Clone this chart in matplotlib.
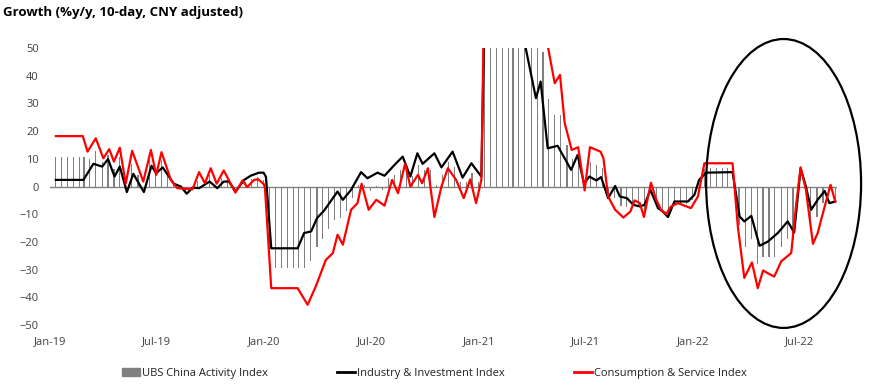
import pandas as pd
import matplotlib
matplotlib.use('Agg')
import matplotlib.pyplot as plt
import matplotlib.dates as mdates
from matplotlib.patches import Ellipse, Patch
from matplotlib.lines import Line2D

plt.rcParams['font.family'] = ['Open Sans', 'DejaVu Sans']

# UBS China Activity Index: one value per 10-day period (10th, 20th, month end), Jan-19 .. Aug-22
bar_months = pd.period_range('2019-01', '2022-08', freq='M')
activity = [
    10.5, 10.5, 10.5,  10.5, 10.5, 10.5,  10.0, 13.0, 8.8,  11.5, 6.4, 10.6,
    0.0, 8.2, 4.0,  0.0, 9.5, 5.0,  9.6, 5.5, 1.0,  -0.4, -1.7, -0.7,
    2.0, 1.0, 4.0,  0.7, 3.0, 2.4,  -1.2, 0.5, 1.5,  2.7, 3.5, 2.5,
    # 2020
    -29.5, -29.5, -29.5,  -29.5, -29.5, -29.5,  -29.5, -27.0, -22.0,  -19.0, -15.5, -12.0,
    -11.5, -9.0, -4.0,  0.5, 0.5, -1.7,  0.1, -1.2, 3.2,  4.1, 6.0, 6.5,
    3.8, 7.6, 6.0,  6.0, 0.7, 4.2,  8.8, 7.2, 1.7,  1.5, 4.8, 1.8,
    # 2021
    62, 68, 72,  75, 80, 85,  78, 70, 62,  53, 48.7, 31.5,
    26.0, 26.0, 15.0,  10.0, 9.0, 0.2,  8.7, 7.6, 6.7,  -4.0, -4.0, -7.0,
    -7.3, -6.2, -6.5,  -8.7, 0.0, -6.0,  -9.0, -10.0, -6.0,  -5.9, -6.3, -5.0,
    # 2022
    -1.0, 6.4, 6.8,  6.8, 6.8, 6.8,  6.8, -14.0, -22.0,  -19.0, -28.0, -25.5,
    -25.6, -25.5, -22.0,  -19.0, -19.4, 1.5,  0.8, -12.0, -11.0,  -6.0, -3.3, -5.4,
]

industry_pts = [
    ('2019-01-11', 2.4), ('2019-02-27', 2.4), ('2019-03-16', 8.2), ('2019-03-31', 7.2),
    ('2019-04-10', 9.9), ('2019-04-21', 3.6), ('2019-04-30', 7.2), ('2019-05-12', -2.0),
    ('2019-05-23', 4.6), ('2019-06-10', -2.0), ('2019-06-23', 7.5), ('2019-07-01', 4.8),
    ('2019-07-12', 6.9), ('2019-07-31', 1.0), ('2019-08-12', 0.0), ('2019-08-22', -2.6),
    ('2019-09-01', -0.4), ('2019-09-12', -0.6), ('2019-09-30', 1.8), ('2019-10-13', -0.6),
    ('2019-10-24', 1.8), ('2019-11-02', 1.8), ('2019-11-13', -1.8), ('2019-11-28', 2.4),
    ('2019-12-09', 3.9), ('2019-12-23', 5.0), ('2019-12-31', 5.0), ('2020-01-04', 3.5),
    ('2020-01-13', -22.3), ('2020-02-27', -22.3), ('2020-03-09', -16.8), ('2020-03-21', -16.2),
    ('2020-03-31', -11.4), ('2020-04-12', -8.7), ('2020-04-23', -5.4), ('2020-05-05', -1.8),
    ('2020-05-14', -4.8), ('2020-05-28', -1.2), ('2020-06-14', 5.2), ('2020-06-25', 3.0),
    ('2020-07-12', 5.0), ('2020-07-24', 3.9), ('2020-08-10', 7.8), ('2020-08-24', 10.8),
    ('2020-09-06', 3.6), ('2020-09-18', 12.0), ('2020-09-27', 8.2), ('2020-10-17', 12.0),
    ('2020-10-29', 6.9), ('2020-11-17', 12.6), ('2020-12-04', 3.2), ('2020-12-19', 8.4),
    ('2021-01-05', 3.6), ('2021-01-12', 80.0), ('2021-02-15', 90.0), ('2021-03-10', 62.0),
    ('2021-04-08', 31.9), ('2021-04-16', 37.9), ('2021-04-28', 13.8), ('2021-05-15', 14.7),
    ('2021-06-07', 6.0), ('2021-06-18', 11.4), ('2021-06-29', 1.0), ('2021-07-08', 3.6),
    ('2021-07-20', 2.2), ('2021-07-28', 3.4), ('2021-08-09', -4.2), ('2021-08-21', 0.2),
    ('2021-08-29', -3.6), ('2021-09-10', -4.2), ('2021-09-21', -6.6), ('2021-10-02', -7.2),
    ('2021-10-10', -6.6), ('2021-10-20', -1.2), ('2021-11-02', -7.8), ('2021-11-10', -9.0),
    ('2021-11-19', -11.0), ('2021-11-30', -5.4), ('2021-12-23', -5.4), ('2022-01-03', -3.0),
    ('2022-01-11', 2.4), ('2022-01-23', 5.0), ('2022-03-09', 5.2), ('2022-03-21', -10.8),
    ('2022-03-29', -12.6), ('2022-04-10', -10.6), ('2022-04-24', -21.4), ('2022-05-08', -19.9),
    ('2022-05-25', -16.8), ('2022-06-11', -12.6), ('2022-06-22', -16.6), ('2022-07-03', 6.6),
    ('2022-07-12', 0.0), ('2022-07-21', -8.4), ('2022-08-01', -4.8), ('2022-08-13', -1.6),
    ('2022-08-21', -6.0), ('2022-08-31', -5.4),
]

consumption_pts = [
    ('2019-01-11', 18.2), ('2019-02-26', 18.2), ('2019-03-06', 12.6), ('2019-03-20', 17.4),
    ('2019-04-02', 10.2), ('2019-04-12', 13.5), ('2019-04-20', 9.0), ('2019-04-30', 14.0),
    ('2019-05-10', 1.0), ('2019-05-21', 12.9), ('2019-06-09', 1.8), ('2019-06-22', 13.2),
    ('2019-07-01', 4.2), ('2019-07-10', 12.4), ('2019-07-26', 2.4), ('2019-08-06', -0.6),
    ('2019-09-01', -1.0), ('2019-09-12', 5.2), ('2019-09-22', 1.2), ('2019-10-02', 6.6),
    ('2019-10-12', 1.0), ('2019-10-24', 5.8), ('2019-11-13', -2.2), ('2019-11-25', 2.2),
    ('2019-12-03', -0.2), ('2019-12-15', 2.4), ('2019-12-22', 2.6), ('2020-01-02', 0.5),
    ('2020-01-13', -36.7), ('2020-02-27', -36.7), ('2020-03-15', -42.7), ('2020-03-29', -36.0),
    ('2020-04-15', -26.5), ('2020-04-27', -24.0), ('2020-05-05', -17.4), ('2020-05-14', -21.0),
    ('2020-05-28', -8.4), ('2020-06-08', -6.0), ('2020-06-15', 1.0), ('2020-06-27', -8.4),
    ('2020-07-10', -4.8), ('2020-07-24', -6.9), ('2020-08-06', 2.4), ('2020-08-16', -2.4),
    ('2020-08-28', 8.2), ('2020-09-06', 0.0), ('2020-09-19', 4.2), ('2020-09-26', 1.2),
    ('2020-10-06', 6.6), ('2020-10-17', -11.0), ('2020-10-29', 0.0), ('2020-11-09', 6.6),
    ('2020-11-23', 2.4), ('2020-12-06', -4.2), ('2020-12-17', 2.6), ('2020-12-27', -6.0),
    ('2021-01-05', 2.4), ('2021-01-12', 100.0), ('2021-03-15', 110.0), ('2021-04-20', 60.0),
    ('2021-05-10', 37.3), ('2021-05-19', 40.3), ('2021-05-27', 22.9), ('2021-06-08', 13.2),
    ('2021-06-19', 14.2), ('2021-06-30', -1.4), ('2021-07-09', 14.2), ('2021-07-27', 12.6),
    ('2021-08-01', 10.2), ('2021-08-09', -3.6), ('2021-08-21', -8.4), ('2021-09-04', -11.2),
    ('2021-09-16', -9.0), ('2021-09-23', -5.0), ('2021-10-02', -6.0), ('2021-10-09', -11.0),
    ('2021-10-21', 1.4), ('2021-10-29', -4.2), ('2021-11-07', -8.4), ('2021-11-16', -9.9),
    ('2021-11-24', -7.2), ('2021-12-06', -6.0), ('2021-12-17', -6.9), ('2021-12-28', -7.8),
    ('2022-01-09', -3.6), ('2022-01-20', 8.4), ('2022-03-09', 8.4), ('2022-03-18', -14.4),
    ('2022-03-29', -33.0), ('2022-04-11', -27.4), ('2022-04-21', -36.7), ('2022-04-30', -30.3),
    ('2022-05-08', -31.3), ('2022-05-19', -32.5), ('2022-05-31', -27.0), ('2022-06-17', -24.0),
    ('2022-06-25', -7.2), ('2022-07-03', 6.9), ('2022-07-12', -1.2), ('2022-07-24', -20.7),
    ('2022-08-01', -16.8), ('2022-08-13', -7.2), ('2022-08-23', 0.6), ('2022-08-31', -5.4),
]

title = 'Growth (%y/y, 10-day, CNY adjusted)'
labels = ['UBS China Activity Index', 'Industry & Investment Index', 'Consumption & Service Index']

# 10-day bar dates
bar_dates = []
for m in bar_months:
    start = m.start_time
    bar_dates += [start + pd.Timedelta(days=9), start + pd.Timedelta(days=19), m.end_time.normalize()]

ind_d, ind_v = zip(*industry_pts)
con_d, con_v = zip(*consumption_pts)
ind_d = pd.to_datetime(list(ind_d))
con_d = pd.to_datetime(list(con_d))

fig = plt.figure(figsize=(8.69, 3.89), dpi=100)
ax = fig.add_axes([0.0575, 0.1645, 0.9057, 0.712])

ax.bar(bar_dates, activity, width=2.0, color='#808080', linewidth=0, zorder=1)
ax.axhline(0, color='#808080', lw=1, zorder=2)
ax.plot(ind_d, ind_v, color='black', lw=1.6, solid_joinstyle='round', zorder=3)
ax.plot(con_d, con_v, color='#ff0000', lw=1.6, solid_joinstyle='round', zorder=4)

ax.set_ylim(-50, 50)
ax.set_yticks(range(-50, 51, 10))
ax.set_xlim(pd.Timestamp('2019-01-01'), pd.Timestamp('2022-09-03'))
ax.xaxis.set_major_locator(mdates.MonthLocator(bymonth=[1, 7]))
ax.xaxis.set_major_formatter(mdates.DateFormatter('%b-%y'))
ax.tick_params(axis='both', length=0, labelsize=8, labelcolor='#404040')
ax.tick_params(axis='y', pad=8)
ax.tick_params(axis='x', pad=8)
for s in ax.spines.values():
    s.set_visible(False)

# highlight circle round the 2022 lockdown period
ell = Ellipse((mdates.date2num(pd.Timestamp('2022-06-04')), 1.1), width=264, height=104.3,
              fill=False, edgecolor='black', lw=1.6, clip_on=False, zorder=5)
ax.add_patch(ell)

fig.text(0.003, 0.968, title, fontsize=9.5, fontweight='bold', va='center', ha='left')

handles = [Patch(color='#808080'), Line2D([], [], color='black', lw=2), Line2D([], [], color='#ff0000', lw=2)]
fig.legend(handles, labels, loc='center', bbox_to_anchor=(0.5, 0.041), ncol=3, frameon=False,
           fontsize=8, handlelength=1.6, handletextpad=0.2, columnspacing=6.2, labelcolor='#202020')

fig.savefig('out.png', dpi=100)
